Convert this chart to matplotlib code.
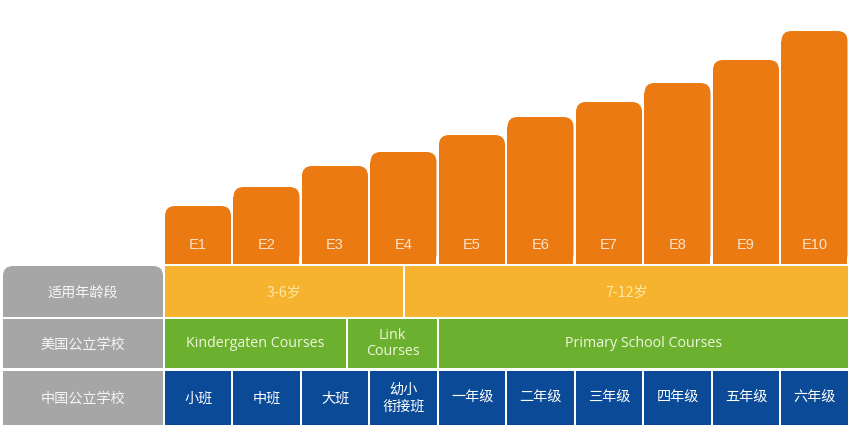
import matplotlib
matplotlib.use("Agg")
import matplotlib.pyplot as plt
from matplotlib.patches import FancyBboxPatch, Rectangle

plt.rcParams['font.family'] = ['Noto Sans CJK SC', 'DejaVu Sans']

# ---- data ----
levels = ["E1", "E2", "E3", "E4", "E5", "E6", "E7", "E8", "E9", "E10"]
level_values = [58, 77, 98, 112, 129, 147, 162, 181, 204, 233]
row_labels = ["适用年龄段", "美国公立学校", "中国公立学校"]
age_groups = ["3-6岁", "7-12岁"]
age_spans = [(0, 3.5), (3.5, 10)]
us_courses = ["Kindergaten Courses", "Link\nCourses", "Primary School Courses"]
us_spans = [(0, 2.67), (2.67, 4), (4, 10)]
cn_grades = ["小班", "中班", "大班", "幼小\n衔接班", "一年级", "二年级",
             "三年级", "四年级", "五年级", "六年级"]

# ---- style ----
ORANGE = "#ec7a13"
YELLOW = "#f6b32f"
GREEN = "#6cb02f"
BLUE = "#0b4a97"
GRAY = "#a6a6a6"

W, H = 854, 447
fig = plt.figure(figsize=(W / 100, H / 100), dpi=100)
ax = fig.add_axes([0, 0, 1, 1])
ax.set_xlim(0, W)
ax.set_ylim(0, H)
ax.axis("off")

X0 = 165.0
COLW = 68.5
BAR_BASE = 447 - 264
GAP = 2.5


def col_x(i):
    return X0 + i * COLW


def rounded_top(x, y, w, h, r, color):
    ax.add_patch(FancyBboxPatch((x, y), w, h,
                                boxstyle=f"round,pad=0,rounding_size={r}",
                                fc=color, ec="none", lw=0))
    ax.add_patch(Rectangle((x, y), w, h - r, fc=color, ec="none", lw=0))


# bars
for i, (lab, v) in enumerate(zip(levels, level_values)):
    x = col_x(i)
    rounded_top(x, BAR_BASE, COLW - GAP, v, 10, ORANGE)
    ax.text(x + (COLW - GAP) / 2, BAR_BASE + 19, lab, ha="center", va="center",
            color="#fbe3cc", fontsize=10.5, family=["Liberation Sans", "DejaVu Sans"])

# rows (y-up coords): yellow, green, blue
rows = [(447 - 317, 51), (447 - 368, 49), (447 - 425, 54)]

# gray label column
for j, (lab, (y, h)) in enumerate(zip(row_labels, rows)):
    if j == 0:
        rounded_top(3, y, 160, h, 10, GRAY)
    else:
        ax.add_patch(Rectangle((3, y), 160, h, fc=GRAY, ec="none"))
    ax.text(83, y + h / 2 - 1, lab, ha="center", va="center", color="#f5f5f5",
            fontsize=10.2)

# age row
y, h = rows[0]
for lab, (a, b) in zip(age_groups, age_spans):
    xa = col_x(a)
    xb = col_x(b) - 2
    ax.add_patch(Rectangle((xa, y), xb - xa, h, fc=YELLOW, ec="none"))
    ax.text((xa + xb) / 2, y + h / 2 - 1, lab, ha="center", va="center",
            color="#fde8a8", fontsize=10.2)

# US row
y, h = rows[1]
for lab, (a, b) in zip(us_courses, us_spans):
    xa = col_x(a)
    xb = col_x(b) - 2
    ax.add_patch(Rectangle((xa, y), xb - xa, h, fc=GREEN, ec="none"))
    ax.text((xa + xb) / 2, y + h / 2, lab, ha="center", va="center",
            color="#eef8dc", fontsize=10.3, linespacing=1.1,
            family=["Open Sans", "DejaVu Sans"])

# CN row
y, h = rows[2]
for i, lab in enumerate(cn_grades):
    xa = col_x(i)
    ax.add_patch(Rectangle((xa, y), COLW - 2, h, fc=BLUE, ec="none"))
    ax.text(xa + (COLW - 2) / 2, y + h / 2, lab, ha="center", va="center",
            color="white", fontsize=10.2, linespacing=1.2)

fig.savefig("out.png", dpi=100, facecolor="white")
